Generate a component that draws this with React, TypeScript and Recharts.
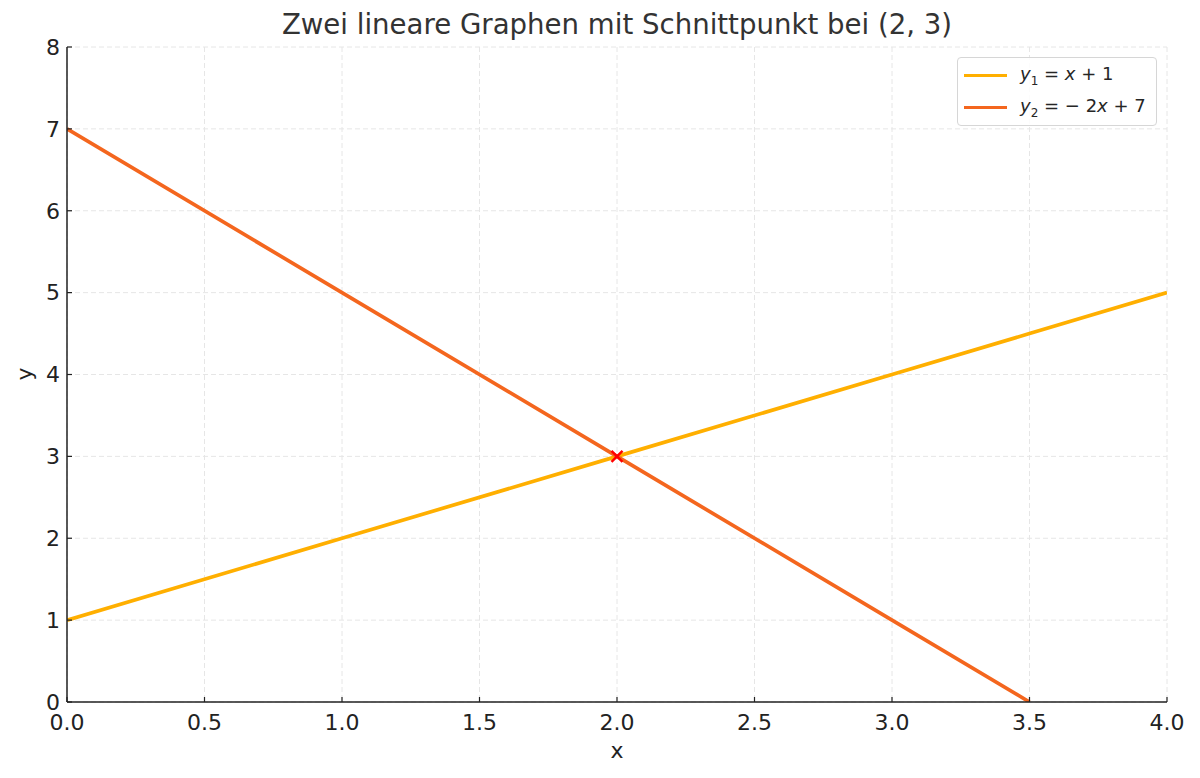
import React from "react";
import { ComposedChart, Line, Scatter, XAxis, YAxis, CartesianGrid, Legend } from "recharts";

const xValues = [0, 1, 2, 3, 3.5, 4];
const y1Values = [1, 2, 3, 4, 4.5, 5];
const y2Values: (number | null)[] = [7, 5, 3, 1, 0, null];
const xTicks = [0, 0.5, 1, 1.5, 2, 2.5, 3, 3.5, 4];
const yTicks = [0, 1, 2, 3, 4, 5, 6, 7, 8];
const intersection = [{ x: 2, y: 3 }];

const data = xValues.map((x, i) => ({ x, y1: y1Values[i], y2: y2Values[i] }));

const C1 = "#FFAF00";
const C2 = "#F4661E";
const FONT = "DejaVu Sans, sans-serif";

const XMark = (props: any) => {
  const { cx, cy } = props;
  const s = 5.5;
  return (
    <g>
      <line x1={cx - s} y1={cy - s} x2={cx + s} y2={cy + s} stroke="#FF0000" strokeWidth={2.5} />
      <line x1={cx - s} y1={cy + s} x2={cx + s} y2={cy - s} stroke="#FF0000" strokeWidth={2.5} />
    </g>
  );
};

const LegendContent = () => (
  <div
    style={{
      position: "absolute",
      left: 957,
      top: 57,
      width: 200,
      height: 69,
      border: "1px solid #d6d6d6",
      borderRadius: 4,
      background: "rgba(255,255,255,0.85)",
      boxSizing: "border-box",
      fontFamily: FONT,
      fontSize: 18,
      color: "#262626",
    }}
  >
    <div style={{ position: "absolute", left: 6, top: 5, display: "flex", alignItems: "center" }}>
      <div style={{ width: 43, height: 3.5, background: C1, marginRight: 13 }} />
      <span>
        <i>y</i><sub style={{ fontSize: 12 }}>1</sub> = <i>x</i> + 1
      </span>
    </div>
    <div style={{ position: "absolute", left: 6, top: 37, display: "flex", alignItems: "center" }}>
      <div style={{ width: 43, height: 3.5, background: C2, marginRight: 13 }} />
      <span>
        <i>y</i><sub style={{ fontSize: 12 }}>2</sub> = − 2<i>x</i> + 7
      </span>
    </div>
  </div>
);

export default function App() {
  return (
    <div style={{ position: "absolute", left: 0, top: 0, width: 1200, height: 778, background: "#fff" }}>
      <div
        style={{
          position: "absolute",
          left: 67,
          width: 1100,
          top: 9,
          textAlign: "center",
          fontFamily: FONT,
          fontSize: 27.6,
          lineHeight: "32px",
          color: "#333",
        }}
      >
        Zwei lineare Graphen mit Schnittpunkt bei (2, 3)
      </div>
      <ComposedChart
        width={1200}
        height={778}
        data={data}
        margin={{ top: 47, right: 33, bottom: 0, left: 7 }}
        style={{ position: "absolute", left: 0, top: 0 }}
      >
        <CartesianGrid stroke="#e6e6e6" strokeDasharray="5 3" vertical horizontal />
        <XAxis
          dataKey="x"
          type="number"
          domain={[0, 4]}
          ticks={xTicks}
          tickFormatter={(v: number) => v.toFixed(1)}
          axisLine={{ stroke: "#222", strokeWidth: 1.5 }}
          tickLine={{ stroke: "#222", strokeWidth: 1.2 }}
          tickSize={-5}
          tickMargin={13}
          tick={{ fill: "#222", fontSize: 22, fontFamily: FONT, dy: 4 }}
          height={76}
          label={{ value: "x", position: "insideBottom", offset: 20, fill: "#222", fontSize: 22, fontFamily: FONT }}
          allowDataOverflow
        />
        <YAxis
          type="number"
          domain={[0, 8]}
          ticks={yTicks}
          axisLine={{ stroke: "#222", strokeWidth: 1.5 }}
          tickLine={{ stroke: "#222", strokeWidth: 1.2 }}
          tickSize={-5}
          tickMargin={12}
          tick={{ fill: "#222", fontSize: 22, fontFamily: FONT }}
          width={60}
          label={{ value: "y", angle: -90, position: "insideLeft", offset: 17, dy: 6, fill: "#222", fontSize: 22, fontFamily: FONT }}
          allowDataOverflow
        />
        <Legend content={<LegendContent />} wrapperStyle={{ position: "absolute", left: 0, top: 0, width: 0, height: 0 }} />
        <Line dataKey="y1" stroke={C1} strokeWidth={3.7} dot={false} isAnimationActive={false} />
        <Line dataKey="y2" stroke={C2} strokeWidth={3.7} dot={false} isAnimationActive={false} connectNulls={false} />
        <Scatter data={intersection} dataKey="y" shape={<XMark />} isAnimationActive={false} />
      </ComposedChart>
    </div>
  );
}
